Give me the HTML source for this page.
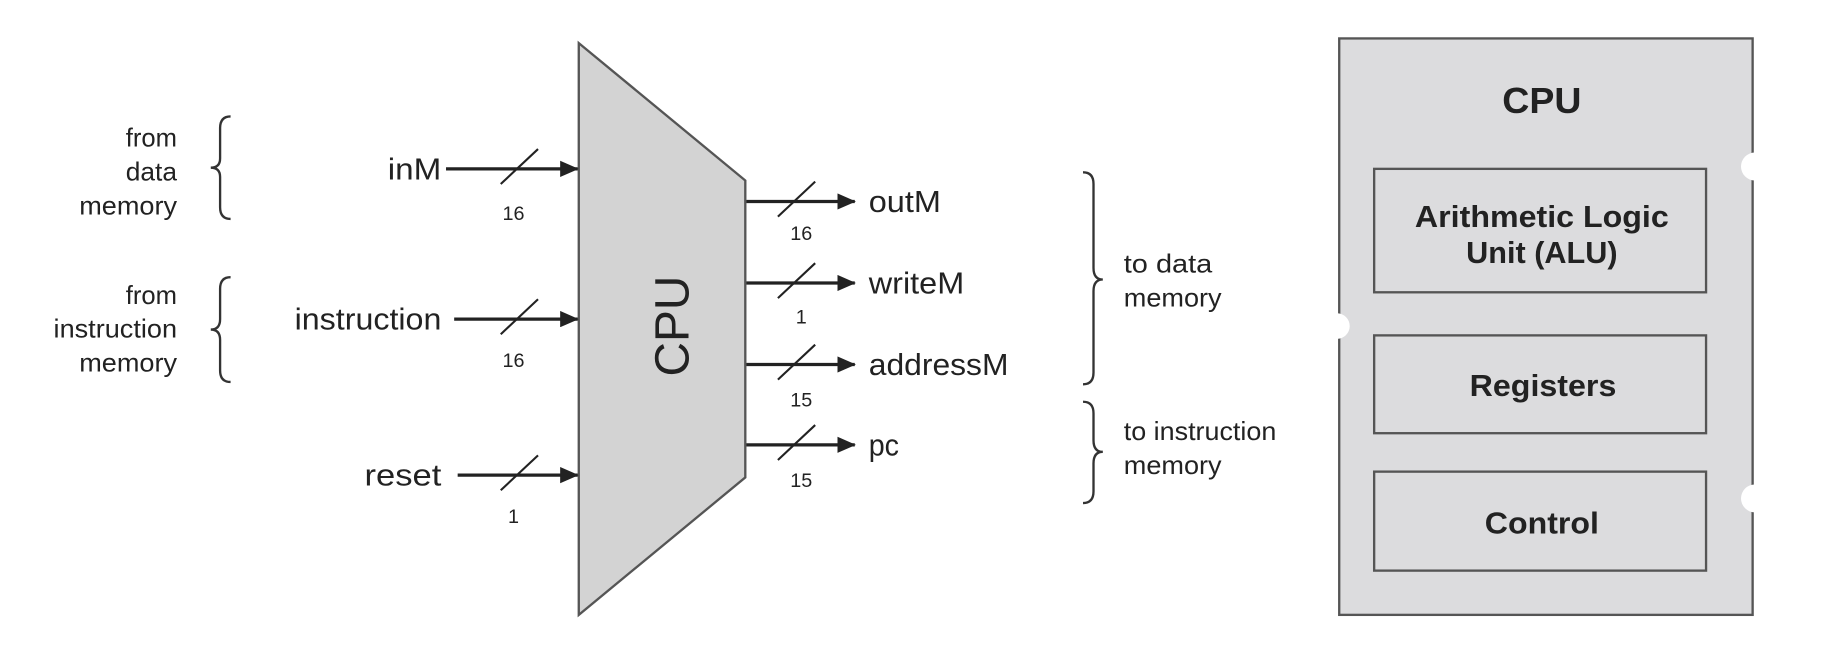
<!DOCTYPE html>
<html><head><meta charset="utf-8"><style>
html,body{margin:0;padding:0;background:#fff;}
svg{display:block;}
text{font-family:"Liberation Sans",Arial,sans-serif;fill:#222;}
</style></head><body>
<svg width="1826" height="654" viewBox="0 0 1568 561.6" preserveAspectRatio="none" xmlns="http://www.w3.org/2000/svg">
<defs>
<marker id="ah" markerWidth="16" markerHeight="14" refX="15" refY="7" orient="auto" markerUnits="userSpaceOnUse">
<path d="M0,0 L16,7 L0,14 z" fill="#222"/>
</marker>
</defs>
<polygon points="497,37 640,155 640,410 497,528" fill="#d3d3d3" stroke="#555" stroke-width="2"/>
<text x="578" y="280" font-size="41" text-anchor="middle" transform="rotate(-90 578 280)" dominant-baseline="central">CPU</text>

<g stroke="#222" stroke-width="2.8" fill="none">
<line x1="383" y1="145" x2="496" y2="145" marker-end="url(#ah)"/>
<line x1="390" y1="274" x2="496" y2="274" marker-end="url(#ah)"/>
<line x1="393" y1="408" x2="496" y2="408" marker-end="url(#ah)"/>
<line x1="641" y1="173" x2="734" y2="173" marker-end="url(#ah)"/>
<line x1="641" y1="243" x2="734" y2="243" marker-end="url(#ah)"/>
<line x1="641" y1="313" x2="734" y2="313" marker-end="url(#ah)"/>
<line x1="641" y1="382" x2="734" y2="382" marker-end="url(#ah)"/>
</g>
<g stroke="#222" stroke-width="1.8">
<line x1="430" y1="158" x2="462" y2="128"/>
<line x1="430" y1="287" x2="462" y2="257"/>
<line x1="430" y1="421" x2="462" y2="391"/>
<line x1="668" y1="186" x2="700" y2="156"/>
<line x1="668" y1="256" x2="700" y2="226"/>
<line x1="668" y1="326" x2="700" y2="296"/>
<line x1="668" y1="395" x2="700" y2="365"/>
</g>
<g font-size="26" text-anchor="end">
<text x="379" y="154" textLength="46" lengthAdjust="spacingAndGlyphs">inM</text>
<text x="379" y="283" textLength="126" lengthAdjust="spacingAndGlyphs">instruction</text>
<text x="379" y="417" textLength="66" lengthAdjust="spacingAndGlyphs">reset</text>
</g>
<g font-size="26">
<text x="746" y="182" textLength="62" lengthAdjust="spacingAndGlyphs">outM</text>
<text x="746" y="252" textLength="82" lengthAdjust="spacingAndGlyphs">writeM</text>
<text x="746" y="322" textLength="120" lengthAdjust="spacingAndGlyphs">addressM</text>
<text x="746" y="391" textLength="26" lengthAdjust="spacingAndGlyphs">pc</text>
</g>
<g font-size="17" text-anchor="middle">
<text x="441" y="189">16</text>
<text x="441" y="315">16</text>
<text x="441" y="449">1</text>
<text x="688" y="206">16</text>
<text x="688" y="278">1</text>
<text x="688" y="349">15</text>
<text x="688" y="418">15</text>
</g>
<g font-size="22" text-anchor="end" fill="#333">
<text x="152" y="126" textLength="44" lengthAdjust="spacingAndGlyphs">from</text>
<text x="152" y="155" textLength="44" lengthAdjust="spacingAndGlyphs">data</text>
<text x="152" y="184" textLength="84" lengthAdjust="spacingAndGlyphs">memory</text>
<text x="152" y="261" textLength="44" lengthAdjust="spacingAndGlyphs">from</text>
<text x="152" y="290" textLength="106" lengthAdjust="spacingAndGlyphs">instruction</text>
<text x="152" y="319" textLength="84" lengthAdjust="spacingAndGlyphs">memory</text>
</g>
<g stroke="#333" stroke-width="2" fill="none">
<path d="M198,100 Q189,100 189,110 L189,136 Q189,144 181,144 Q189,144 189,152 L189,178 Q189,188 198,188"/>
<path d="M198,238 Q189,238 189,248 L189,274 Q189,283 181,283 Q189,283 189,292 L189,318 Q189,328 198,328"/>
<path d="M930,148 Q939,148 939,158 L939,230 Q939,240 947,240 Q939,240 939,250 L939,320 Q939,330 930,330"/>
<path d="M930,345 Q939,345 939,355 L939,378 Q939,388 947,388 Q939,388 939,398 L939,422 Q939,432 930,432"/>
</g>
<g font-size="22" fill="#333">
<text x="965" y="234" textLength="76" lengthAdjust="spacingAndGlyphs">to data</text>
<text x="965" y="263" textLength="84" lengthAdjust="spacingAndGlyphs">memory</text>
<text x="965" y="378" textLength="131" lengthAdjust="spacingAndGlyphs">to instruction</text>
<text x="965" y="407" textLength="84" lengthAdjust="spacingAndGlyphs">memory</text>
</g>
<rect x="1150" y="33" width="355" height="495" fill="#dcdcde" stroke="#555" stroke-width="2"/>
<circle cx="1507" cy="143" r="12" fill="#fff"/>
<circle cx="1148" cy="280" r="11" fill="#fff"/>
<circle cx="1507" cy="428" r="12" fill="#fff"/>
<text x="1324" y="97" font-size="31" font-weight="bold" text-anchor="middle" textLength="68" lengthAdjust="spacingAndGlyphs">CPU</text>
<g fill="#dcdcde" stroke="#555" stroke-width="2">
<rect x="1180" y="145" width="285" height="106"/>
<rect x="1180" y="288" width="285" height="84"/>
<rect x="1180" y="405" width="285" height="85"/>
</g>
<g font-size="26" font-weight="bold" text-anchor="middle">
<text x="1324" y="195" textLength="218" lengthAdjust="spacingAndGlyphs">Arithmetic Logic</text>
<text x="1324" y="226" textLength="130" lengthAdjust="spacingAndGlyphs">Unit (ALU)</text>
<text x="1325" y="340" textLength="126" lengthAdjust="spacingAndGlyphs">Registers</text>
<text x="1324" y="458" textLength="98" lengthAdjust="spacingAndGlyphs">Control</text>
</g>
</svg>
</body></html>
